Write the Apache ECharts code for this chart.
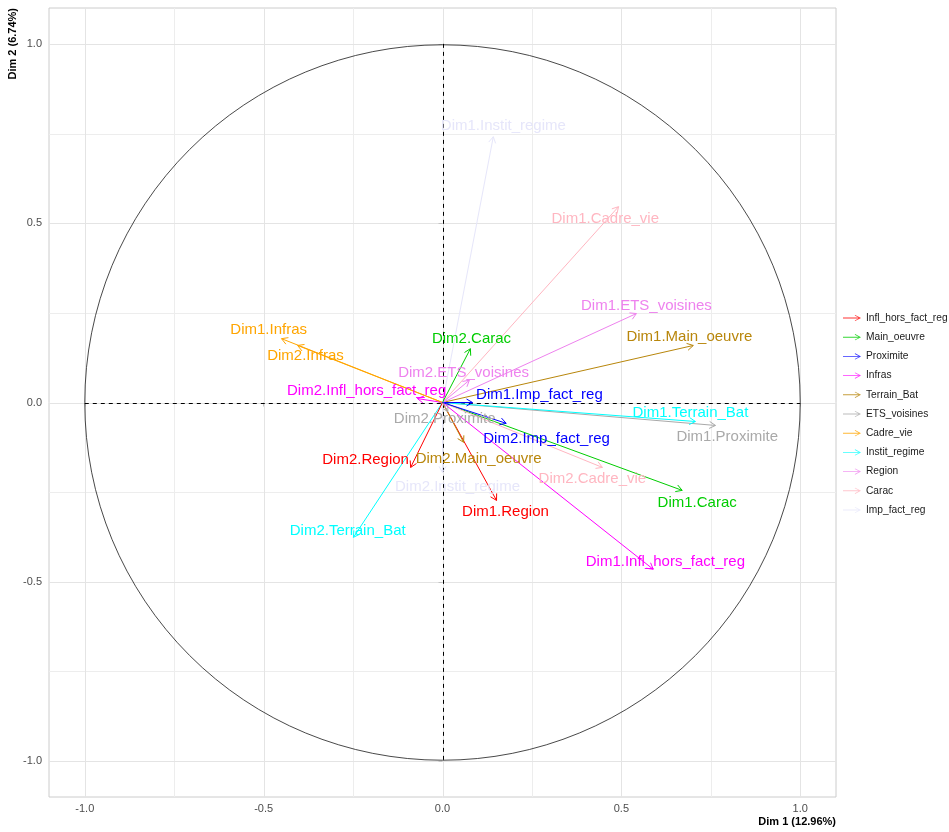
<!DOCTYPE html>
<html>
<head>
<meta charset="utf-8">
<script src="https://cdn.jsdelivr.net/npm/echarts@6/dist/echarts.min.js"></script>
<style>
html,body{margin:0;padding:0;background:#fff;}
#chart{width:949px;height:832px;}
</style>
</head>
<body>
<div id="chart"></div>
<script>
// ---- Data ----
const variables = ['Infl_hors_fact_reg', 'Main_oeuvre', 'Proximite', 'Infras', 'Terrain_Bat', 'ETS_voisines', 'Cadre_vie', 'Instit_regime', 'Region', 'Carac', 'Imp_fact_reg'];
// coordinates of the Dim1.* arrows
const dim1X = [0.589, 0.701, 0.763, -0.450, 0.707, 0.542, 0.492, 0.142, 0.151, 0.670, 0.084];
const dim1Y = [-0.465, 0.159, -0.064, 0.178, -0.053, 0.248, 0.546, 0.741, -0.273, -0.245, 0.000];
// coordinates of the Dim2.* arrows
const dim2X = [-0.070, 0.059, 0.015, -0.405, -0.249, 0.075, 0.447, 0.000, -0.089, 0.078, 0.178];
const dim2Y = [0.011, -0.111, -0.025, 0.159, -0.376, 0.062, -0.181, -0.195, -0.181, 0.150, -0.058];
// label anchor points (data units, as placed by the repel algorithm)
const lab1X = [0.623, 0.690, 0.796, -0.486, 0.693, 0.570, 0.455, 0.170, 0.176, 0.712, 0.271];
const lab1Y = [-0.443, 0.184, -0.097, 0.203, -0.028, 0.270, 0.513, 0.772, -0.306, -0.279, 0.022];
const lab2X = [-0.212, 0.101, 0.006, -0.383, -0.265, 0.059, 0.419, 0.042, -0.215, 0.081, 0.291];
const lab2Y = [0.033, -0.156, -0.045, 0.131, -0.359, 0.084, -0.214, -0.234, -0.159, 0.178, -0.100];
const tickValues = [-1.0, -0.5, 0.0, 0.5, 1.0];
const minorValues = [-0.75, -0.25, 0.25, 0.75];
const xTitle = 'Dim 1 (12.96%)';
const yTitle = 'Dim 2 (6.74%)';

// ---- Styles ----
const arrowColor = {
  Infl_hors_fact_reg: '#FF00FF', Main_oeuvre: '#B8860B', Proximite: '#A9A9A9', Infras: '#FFA500',
  Terrain_Bat: '#00FFFF', ETS_voisines: '#EE82EE', Cadre_vie: '#FFB6C1', Instit_regime: '#E6E6FA',
  Region: '#FF0000', Carac: '#00CD00', Imp_fact_reg: '#0000FF'
};
const legendColors = ['#FF0000', '#00CD00', '#0000FF', '#FF00FF', '#B8860B', '#A9A9A9', '#FFA500', '#00FFFF', '#EE82EE', '#FFB6C1', '#E6E6FA'];
const FONT = 'Arial, "Liberation Sans", sans-serif';

// build arrow records
const arrows = [];
variables.forEach((v, i) => {
  arrows.push({ name: 'Dim1.' + v, v: v, x: dim1X[i], y: dim1Y[i], lx: lab1X[i], ly: lab1Y[i] });
});
variables.forEach((v, i) => {
  arrows.push({ name: 'Dim2.' + v, v: v, x: dim2X[i], y: dim2Y[i], lx: lab2X[i], ly: lab2Y[i] });
});

const chart = echarts.init(document.getElementById('chart'), null, { renderer: 'canvas' });

const legendIcon = 'path://M0,4.5L18.5,4.5L18.5,5.5L0,5.5Z M13.2,1.6L19.6,5L13.2,8.4L12.8,7.7L18,5L12.8,2.3Z';

const legendSeries = variables.map((v, i) => ({
  name: v, type: 'scatter', data: [], itemStyle: { color: legendColors[i] }
}));

const allGrid = minorValues.map(v => [v, 0]).concat(tickValues.map(v => [v, 1]));

const option = {
  backgroundColor: '#ffffff',
  animation: false,
  grid: { left: 49, right: 113, top: 8, bottom: 35, show: true, borderColor: '#CCCCCC', borderWidth: 1, backgroundColor: '#ffffff' },
  xAxis: {
    type: 'value', min: -1.1, max: 1.1,
    axisLine: { show: false },
    splitLine: { show: false },
    axisTick: { show: true, customValues: tickValues, length: 4, lineStyle: { color: '#C4C4C4' } },
    axisLabel: { customValues: tickValues, formatter: v => v.toFixed(1), color: '#4D4D4D', fontSize: 11, fontFamily: FONT, margin: 6 }
  },
  yAxis: {
    type: 'value', min: -1.1, max: 1.1,
    axisLine: { show: false },
    splitLine: { show: false },
    axisTick: { show: true, customValues: tickValues, length: 4, lineStyle: { color: '#C4C4C4' } },
    axisLabel: { customValues: tickValues, formatter: v => v.toFixed(1), color: '#4D4D4D', fontSize: 11, fontFamily: FONT, margin: 7 }
  },
  legend: {
    orient: 'vertical', left: 843, top: 313, padding: 0,
    itemWidth: 18, itemHeight: 10, itemGap: 9.2,
    selectedMode: false,
    icon: legendIcon,
    data: variables,
    textStyle: { fontSize: 10.2, color: '#1A1A1A', fontFamily: FONT }
  },
  graphic: [
    { type: 'text', x: 836, y: 822, style: { text: xTitle, align: 'right', verticalAlign: 'middle', font: 'bold 11px ' + FONT, fill: '#000' } },
    { type: 'text', x: 13, y: 8, rotation: Math.PI / 2, style: { text: yTitle, align: 'right', verticalAlign: 'middle', font: 'bold 11px ' + FONT, fill: '#000' } }
  ],
  series: [
    {
      name: 'gridlines', type: 'custom', z: 0, silent: true,
      data: allGrid,
      renderItem: function (params, api) {
        const v = api.value(0);
        const a = api.coord([v, -1.1]), b = api.coord([v, 1.1]);
        const c = api.coord([-1.1, v]), d = api.coord([1.1, v]);
        const col = api.value(1) ? '#E4E4E4' : '#EDEDED';
        return { type: 'group', children: [
          { type: 'line', shape: { x1: Math.round(a[0]) + 0.5, y1: a[1], x2: Math.round(b[0]) + 0.5, y2: b[1] }, style: { stroke: col, lineWidth: 1 } },
          { type: 'line', shape: { x1: c[0], y1: Math.round(c[1]) + 0.5, x2: d[0], y2: Math.round(d[1]) + 0.5 }, style: { stroke: col, lineWidth: 1 } }
        ] };
      }
    },
    {
      name: 'guides', type: 'custom', z: 1, silent: true,
      data: [[0, 1]],
      renderItem: function (params, api) {
        const o = api.coord([0, 0]);
        const r = api.size([1, 1])[0];
        const l = api.coord([-1, 0]), rr = api.coord([1, 0]);
        const t = api.coord([0, 1]), bt = api.coord([0, -1]);
        return { type: 'group', children: [
          { type: 'circle', shape: { cx: o[0], cy: o[1], r: r }, style: { stroke: '#1a1a1a', lineWidth: 0.8, fill: null } },
          { type: 'line', shape: { x1: l[0], y1: Math.round(o[1]) + 0.5, x2: rr[0], y2: Math.round(o[1]) + 0.5 }, style: { stroke: '#000', lineWidth: 1, lineDash: [4, 4] } },
          { type: 'line', shape: { x1: Math.round(o[0]) + 0.5, y1: t[1], x2: Math.round(o[0]) + 0.5, y2: bt[1] }, style: { stroke: '#000', lineWidth: 1, lineDash: [4, 4] } }
        ] };
      }
    },
    {
      name: 'arrows', type: 'custom', z: 2, silent: true,
      data: arrows.map(a => [a.x, a.y]),
      renderItem: function (params, api) {
        const rec = arrows[params.dataIndex];
        const col = arrowColor[rec.v];
        const p0 = api.coord([0, 0]);
        const p1 = api.coord([api.value(0), api.value(1)]);
        const ang = Math.atan2(p1[1] - p0[1], p1[0] - p0[0]);
        const L = 7, w = Math.PI / 6;
        const h1 = [p1[0] - L * Math.cos(ang - w), p1[1] - L * Math.sin(ang - w)];
        const h2 = [p1[0] - L * Math.cos(ang + w), p1[1] - L * Math.sin(ang + w)];
        return { type: 'group', children: [
          { type: 'line', shape: { x1: p0[0], y1: p0[1], x2: p1[0], y2: p1[1] }, style: { stroke: col, lineWidth: 1 } },
          { type: 'polyline', shape: { points: [h1, p1, h2] }, style: { stroke: col, lineWidth: 1, fill: null } }
        ] };
      }
    },
    {
      name: 'labels', type: 'custom', z: 3, silent: true,
      data: arrows.map(a => [a.lx, a.ly]),
      renderItem: function (params, api) {
        const rec = arrows[params.dataIndex];
        const p = api.coord([api.value(0), api.value(1)]);
        return { type: 'text', x: p[0], y: p[1], style: { text: rec.name, fill: arrowColor[rec.v], fontSize: 15, fontFamily: FONT, align: 'center', verticalAlign: 'middle' } };
      }
    }
  ].concat(legendSeries)
};

chart.setOption(option);
</script>
</body>
</html>
